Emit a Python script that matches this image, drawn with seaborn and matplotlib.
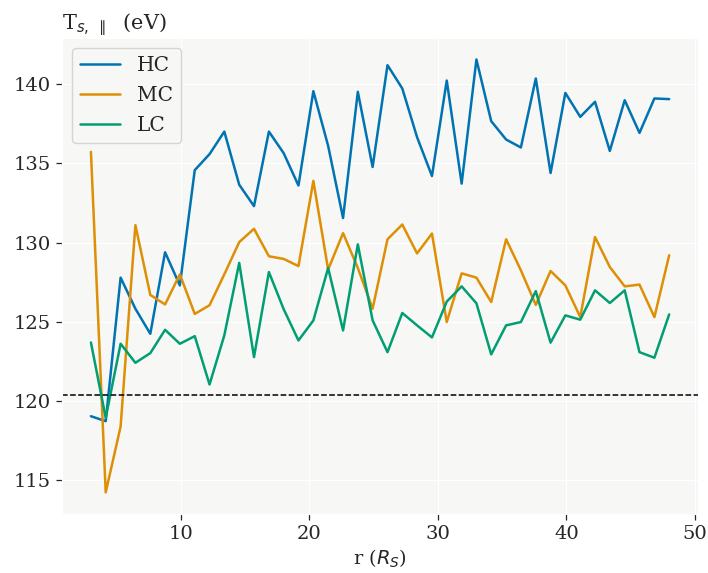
import numpy as np
import pandas as pd
import seaborn as sns
import matplotlib.pyplot as plt

# radial distance (R_S)
r = [3.00, 4.15, 5.31, 6.46, 7.62, 8.77, 9.92, 11.08, 12.23, 13.38,
     14.54, 15.69, 16.85, 18.00, 19.15, 20.31, 21.46, 22.62, 23.77, 24.92,
     26.08, 27.23, 28.38, 29.54, 30.69, 31.85, 33.00, 34.15, 35.31, 36.46,
     37.62, 38.77, 39.92, 41.08, 42.23, 43.38, 44.54, 45.69, 46.85, 48.00]

hc = [119.05, 118.74, 127.79, 125.83, 124.25, 129.39, 127.30, 134.57, 135.58, 137.00,
      133.65, 132.30, 137.00, 135.64, 133.60, 139.55, 136.10, 131.55, 139.51, 134.77,
      141.19, 139.72, 136.65, 134.20, 140.22, 133.72, 141.55, 137.66, 136.50, 136.00,
      140.35, 134.39, 139.44, 137.93, 138.88, 135.78, 138.98, 136.92, 139.09, 139.05]

mc = [135.72, 114.25, 118.40, 131.10, 126.70, 126.10, 128.00, 125.50, 126.05, 128.00,
      130.03, 130.87, 129.14, 128.97, 128.52, 133.89, 128.30, 130.60, 128.40, 125.83,
      130.21, 131.14, 129.32, 130.57, 124.99, 128.06, 127.79, 126.25, 130.21, 128.25,
      126.07, 128.21, 127.30, 125.30, 130.35, 128.46, 127.24, 127.35, 125.30, 129.20]

lc = [123.70, 118.95, 123.62, 122.42, 123.03, 124.50, 123.62, 124.10, 121.05, 124.15,
      128.72, 122.78, 128.14, 125.80, 123.83, 125.09, 128.40, 124.46, 129.89, 125.10,
      123.09, 125.56, 124.78, 124.02, 126.28, 127.24, 126.17, 122.95, 124.78, 124.99,
      126.94, 123.69, 125.41, 125.14, 126.99, 126.19, 126.99, 123.09, 122.74, 125.47]

t_ref = 120.4
groups = ['HC', 'MC', 'LC']

df = pd.DataFrame({'r': r * 3,
                   'T': hc + mc + lc,
                   'group': [g for g in groups for _ in r]})

sns.set_style('darkgrid', {'axes.facecolor': '#f7f7f5',
                           'grid.color': 'white',
                           'xtick.bottom': True,
                           'ytick.left': True})
plt.rcParams['font.family'] = ['DejaVu Serif']
plt.rcParams['mathtext.fontset'] = 'dejavusans'

fig, ax = plt.subplots(figsize=(7.08, 5.73), dpi=100)
fig.subplots_adjust(left=0.0876, right=0.986, top=0.934, bottom=0.103)

sns.lineplot(data=df, x='r', y='T', hue='group', palette='colorblind',
             linewidth=1.8, ax=ax)
ax.axhline(t_ref, color='black', linestyle='--', linewidth=1.1)

ax.tick_params(axis='both', labelsize=14, length=4, width=0.9,
               color='#262626', pad=4)
ax.set_xticks([10, 20, 30, 40, 50])
ax.set_xlabel(r'r ($R_S$)', fontsize=14, labelpad=3)
ax.set_ylabel('')
ax.set_title(r'T$_{s,\ \parallel}$  (eV)', loc='left', fontsize=15, pad=5)

leg = ax.legend(loc='upper left', fontsize=14.5, frameon=True,
                labelspacing=0.55)
leg.get_frame().set_edgecolor('#cccccc')

plt.savefig('out.png', dpi=100)
